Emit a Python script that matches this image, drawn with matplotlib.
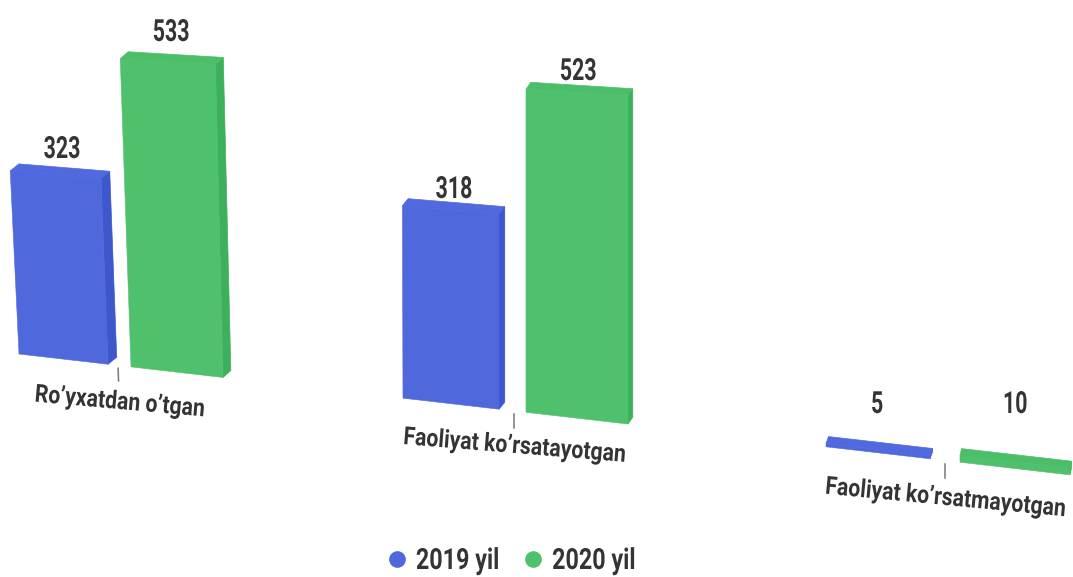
import numpy as np
import matplotlib
matplotlib.use("Agg")
import matplotlib.pyplot as plt
from matplotlib.transforms import Transform, Affine2D, Bbox
from matplotlib.lines import Line2D
from matplotlib.text import Text
from matplotlib.patheffects import AbstractPathEffect

# ---- data ----
categories = ["Ro’yxatdan o’tgan", "Faoliyat ko’rsatayotgan", "Faoliyat ko’rsatmayotgan"]
series_names = ["2019 yil", "2020 yil"]
values_2019 = [323, 318, 5]
values_2020 = [533, 523, 10]

# ---- layout / style ----
W, H = 1073, 577
BLUE = ("#4F68DC", "#5069DE", "#3F57CC")   # front, top, side
GREEN = ("#4FC06C", "#4CBD69", "#3DB05B")
TEXT = "#343434"
FONT = ["Roboto", "DejaVu Sans"]
lefts_2019 = [19, 403, 826]
widths_2019 = [89, 96, 104]
lefts_2020 = [131, 526, 960]
widths_2020 = [92, 102, 110]
ticks_x = [118, 514, 945]
label_xy_2019 = [(62, 149), (454, 189), (877, 404)]
label_xy_2020 = [(171, 32), (578, 71), (1015, 404)]
cat_xy = [(120, 402, -5.0), (515, 446, -4.6), (946, 498, -5.4)]


class Tilt(Transform):
    """(x position, value) -> tilted pixel-like coordinates."""
    input_dims = 2
    output_dims = 2

    def transform_non_affine(self, values):
        values = np.asarray(values, dtype=float)
        x, v = values[:, 0], values[:, 1]
        base = 354 + 0.115 * (x - 19)
        scale = 0.565 + 0.0001 * x
        lean = -0.05 * np.clip(1 - x / 430, 0, 1)
        return np.column_stack([x + lean * v * scale, base - v * scale])


class Squeeze(AbstractPathEffect):
    """Condense glyph outlines horizontally about the middle of the text."""

    def __init__(self, sx):
        super().__init__()
        self.sx = sx

    def draw_path(self, renderer, gc, tpath, affine, rgbFace=None):
        e = tpath.get_extents()
        mid = (e.x0 + e.x1) / 2
        a = Affine2D().translate(-mid, 0).scale(self.sx, 1).translate(mid, 0) + affine
        renderer.draw_path(gc, tpath, a, rgbFace)


class CondText(Text):
    """Text whose reported extent follows its condensed drawing."""

    def __init__(self, *args, sx=1.0, **kwargs):
        super().__init__(*args, **kwargs)
        self.sx = sx
        self.set_path_effects([Squeeze(sx)])

    def get_window_extent(self, renderer=None, dpi=None):
        b = super().get_window_extent(renderer, dpi)
        mid = (b.x0 + b.x1) / 2
        hw = b.width / 2 * self.sx
        return Bbox.from_extents(mid - hw, b.y0, mid + hw, b.y1)


def depth(x):
    return 9.5 - 0.0075 * np.asarray(x, dtype=float), -7.0


fig = plt.figure(figsize=(W / 100, H / 100), dpi=100)
ax = fig.add_axes([0, 0, 1, 1])
ax.set_xlim(0, W)
ax.set_ylim(H, 0)
ax.axis("off")
tilt = Tilt()
T = tilt + ax.transData


def draw_bars(lefts, widths, vals, colors):
    ax.bar(lefts, vals, widths, align="edge", color=colors[0], edgecolor=colors[0],
           linewidth=0.4, transform=T, zorder=3)
    for l, w, v in zip(lefts, widths, vals):
        corners = tilt.transform(np.array([[l, v], [l + w, v], [l + w, 0]], dtype=float))
        dx, dy = depth(l + w)
        tl, tr, br = corners
        top = [tl, tr, tr + (dx, dy), tl + (dx, dy)]
        side = [tr, br, br + (dx, dy), tr + (dx, dy)]
        ax.fill(*zip(*side), facecolor=colors[2], edgecolor=colors[2], linewidth=0.5, zorder=2)
        ax.fill(*zip(*top), facecolor=colors[1], edgecolor=colors[1], linewidth=0.5, zorder=2)


draw_bars(lefts_2019, widths_2019, values_2019, BLUE)
draw_bars(lefts_2020, widths_2020, values_2020, GREEN)

for tx in ticks_x:
    ax.plot([tx, tx], [-5, -27], color="#777777", lw=1.1, transform=T, zorder=1)

for (x, y), v in zip(label_xy_2019 + label_xy_2020, values_2019 + values_2020):
    ax.add_artist(CondText(x, y, str(v), ha="center", va="center", fontsize=22,
                           fontweight="bold", family=FONT, color=TEXT, sx=0.70))

for (x, y, r), c in zip(cat_xy, categories):
    ax.add_artist(CondText(x, y, c, ha="center", va="center", rotation=r,
                           rotation_mode="anchor", fontsize=18, fontweight="bold",
                           family=FONT, color=TEXT, sx=0.85))

handles = [Line2D([], [], ls="", marker="o", ms=12, mec="none", color=BLUE[0]),
           Line2D([], [], ls="", marker="o", ms=12, mec="none", color=GREEN[0])]
leg = fig.legend(handles, series_names, ncols=2, frameon=False, loc="center",
                 bbox_to_anchor=(517 / W, 1 - 561 / H), handlelength=0.6, handletextpad=0.0,
                 columnspacing=0.5, prop={"family": FONT, "weight": "bold", "size": 21})
for t in leg.get_texts():
    t.set_color(TEXT)
    t.set_path_effects([Squeeze(0.8)])

fig.savefig("out.png", dpi=100)
